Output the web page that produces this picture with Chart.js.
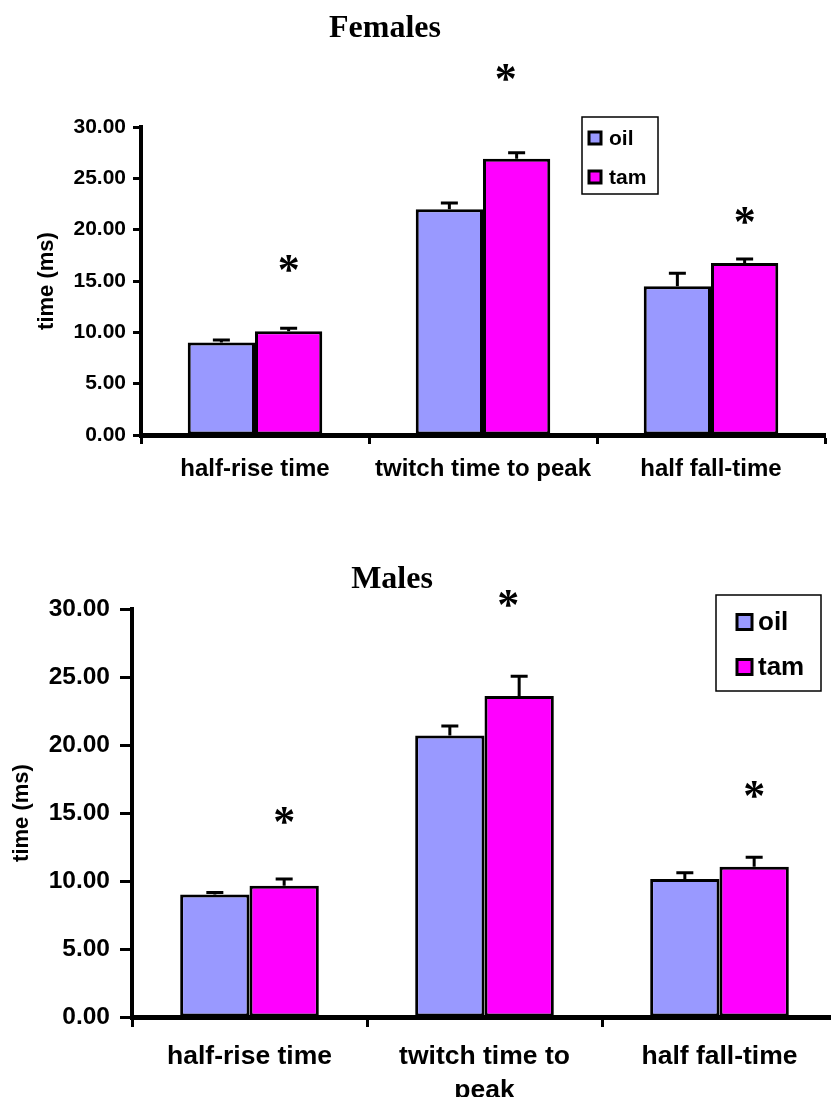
<!DOCTYPE html>
<html>
<head>
<meta charset="utf-8">
<script src="https://cdn.jsdelivr.net/npm/chart.js@4.4.1/dist/chart.umd.min.js"></script>
<style>
  html, body { margin: 0; padding: 0; background: #fff; overflow: hidden; width: 831px; height: 1104px; }
  canvas { position: absolute; left: 0; }
  #females { top: 0; }
  #males { top: 540px; }
</style>
</head>
<body>
<canvas id="females" width="831" height="520"></canvas>
<canvas id="males" width="840" height="564"></canvas>
<script>
// categories and series
const femaleLabels = ['half-rise time', 'twitch time to peak', 'half fall-time'];
const maleLabels = ['half-rise time', ['twitch time to', 'peak'], 'half fall-time'];
const seriesNames = ['oil', 'tam'];

// females (ms), mean and upper error
const femaleOil = [9.0, 22.0, 14.5];
const femaleTam = [10.1, 26.9, 16.75];
const femaleOilErr = [0.25, 0.6, 1.25];
const femaleTamErr = [0.3, 0.6, 0.4];
const femaleStars = [16.7, 35.3, 21.4];   // where the * sits (ms)

// males (ms)
const maleOil = [9.0, 20.7, 10.15];
const maleTam = [9.65, 23.6, 11.05];
const maleOilErr = [0.15, 0.7, 0.45];
const maleTamErr = [0.5, 1.45, 0.7];
const maleStars = [14.85, 30.8, 16.7];

const yMin = 0, yMax = 30, yStep = 5;

const oilColor = '#9999ff';
const tamColor = '#ff00ff';
const sans = '"Liberation Sans", Arial, sans-serif';
const serif = '"Liberation Serif", "Times New Roman", serif';

Chart.defaults.color = '#000';

// up-only error bars with a cap
const errorBars = {
  id: 'errorBars',
  afterDatasetsDraw(chart, args, opts) {
    const ctx = chart.ctx;
    const y = chart.scales.y;
    ctx.save();
    ctx.strokeStyle = '#000';
    ctx.lineWidth = opts.width;
    chart.data.datasets.forEach((ds, i) => {
      chart.getDatasetMeta(i).data.forEach((bar, j) => {
        const top = y.getPixelForValue(ds.data[j] + ds.errors[j]);
        ctx.beginPath();
        ctx.moveTo(bar.x, bar.y);
        ctx.lineTo(bar.x, top);
        ctx.moveTo(bar.x - opts.cap / 2, top);
        ctx.lineTo(bar.x + opts.cap / 2, top);
        ctx.stroke();
      });
    });
    ctx.restore();
  }
};

// significance stars above the tam bars
const stars = {
  id: 'stars',
  afterDraw(chart, args, opts) {
    const ctx = chart.ctx;
    const y = chart.scales.y;
    const meta = chart.getDatasetMeta(1);
    ctx.save();
    ctx.font = opts.font;
    ctx.fillStyle = '#000';
    ctx.textAlign = 'center';
    ctx.textBaseline = 'alphabetic';
    const m = ctx.measureText('*');
    const shift = (m.actualBoundingBoxAscent - m.actualBoundingBoxDescent) / 2;
    opts.values.forEach((v, j) => {
      ctx.fillText('*', meta.data[j].x + opts.nudge[j], y.getPixelForValue(v) + shift);
    });
    ctx.restore();
  }
};

// title and boxed legend
const frame = {
  id: 'frame',
  afterDraw(chart, args, o) {
    const ctx = chart.ctx;
    ctx.save();
    ctx.fillStyle = '#000';
    ctx.font = o.titleFont;
    ctx.textAlign = 'center';
    ctx.textBaseline = 'alphabetic';
    ctx.fillText(o.title, o.titleX, o.titleY);

    const L = o.legend;
    ctx.strokeStyle = '#000';
    ctx.lineWidth = 1.5;
    ctx.strokeRect(L.x, L.y, L.w, L.h);
    ctx.font = L.font;
    ctx.textAlign = 'left';
    ctx.textBaseline = 'middle';
    chart.data.datasets.forEach((ds, i) => {
      const cy = L.rows[i];
      ctx.fillStyle = ds.backgroundColor;
      ctx.fillRect(L.sx, cy - L.s / 2, L.s, L.s);
      ctx.lineWidth = 3;
      ctx.strokeRect(L.sx, cy - L.s / 2, L.s, L.s);
      ctx.fillStyle = '#000';
      ctx.fillText(ds.label, L.tx, cy + 1);
    });
    ctx.restore();
  }
};

function build(id, o) {
  return new Chart(document.getElementById(id), {
    type: 'bar',
    data: {
      labels: o.labels,
      datasets: [
        { label: seriesNames[0], data: o.oil, errors: o.oilErr, backgroundColor: oilColor },
        { label: seriesNames[1], data: o.tam, errors: o.tamErr, backgroundColor: tamColor }
      ]
    },
    options: {
      responsive: false,
      animation: false,
      devicePixelRatio: 1,
      layout: { padding: o.pad },
      datasets: {
        bar: {
          categoryPercentage: 0.59,
          barPercentage: 1,
          borderColor: '#000',
          borderWidth: 3,
          borderSkipped: false
        }
      },
      plugins: {
        legend: { display: false },
        tooltip: { enabled: false },
        errorBars: { cap: 17, width: 3 },
        stars: { values: o.stars, nudge: [0, -11, 0], font: 'bold 44px ' + serif },
        frame: o.frame
      },
      scales: {
        x: {
          afterFit: s => { s.height = o.xHeight; },
          grid: { offset: true, drawOnChartArea: false, tickLength: o.xTick, tickWidth: 3, color: '#000' },
          border: { width: 5, color: '#000' },
          ticks: {
            color: '#000',
            maxRotation: 0,
            autoSkip: false,
            padding: o.xPad,
            font: { family: sans, size: o.xFont, weight: 'bold', lineHeight: o.xLine }
          }
        },
        y: {
          min: yMin,
          max: yMax,
          afterFit: s => { s.width = o.yWidth; },
          grid: { drawOnChartArea: false, tickLength: o.yTick, tickWidth: 3, color: '#000' },
          border: { width: 4, color: '#000' },
          ticks: {
            stepSize: yStep,
            color: '#000',
            padding: o.yPad,
            font: { family: sans, size: o.yFont, weight: 'bold' },
            callback: v => v.toFixed(2)
          },
          title: {
            display: true,
            text: 'time (ms)',
            color: '#000',
            font: { family: sans, size: 22, weight: 'bold' },
            padding: { top: o.titlePad, bottom: 0 }
          }
        }
      }
    },
    plugins: [errorBars, stars, frame]
  });
}

build('females', {
  labels: femaleLabels,
  oil: femaleOil, tam: femaleTam,
  oilErr: femaleOilErr, tamErr: femaleTamErr,
  stars: femaleStars,
  pad: { left: 0, right: 6, top: 127, bottom: 25 },
  xHeight: 60, xTick: 9, xPad: 11, xFont: 24, xLine: 1.2,
  yWidth: 141, yTick: 8, yPad: 7, yFont: 21, titlePad: 34,
  frame: {
    title: 'Females', titleFont: 'bold 32px ' + serif, titleX: 385, titleY: 37,
    legend: { x: 582, y: 117, w: 76, h: 77, sx: 589, s: 12, tx: 609, rows: [138, 177], font: 'bold 21px ' + sans }
  }
});

build('males', {
  labels: maleLabels,
  oil: maleOil, tam: maleTam,
  oilErr: maleOilErr, tamErr: maleTamErr,
  stars: maleStars,
  pad: { left: 0, right: 3, top: 69, bottom: 7 },
  xHeight: 80, xTick: 10, xPad: 12, xFont: 26.5, xLine: 1.3,
  yWidth: 132, yTick: 12, yPad: 10, yFont: 24.5, titlePad: 9,
  frame: {
    title: 'Males', titleFont: 'bold 32px ' + serif, titleX: 392, titleY: 48,
    legend: { x: 716, y: 55, w: 105, h: 96, sx: 737, s: 15, tx: 758, rows: [82, 127], font: 'bold 26px ' + sans }
  }
});
</script>
</body>
</html>
